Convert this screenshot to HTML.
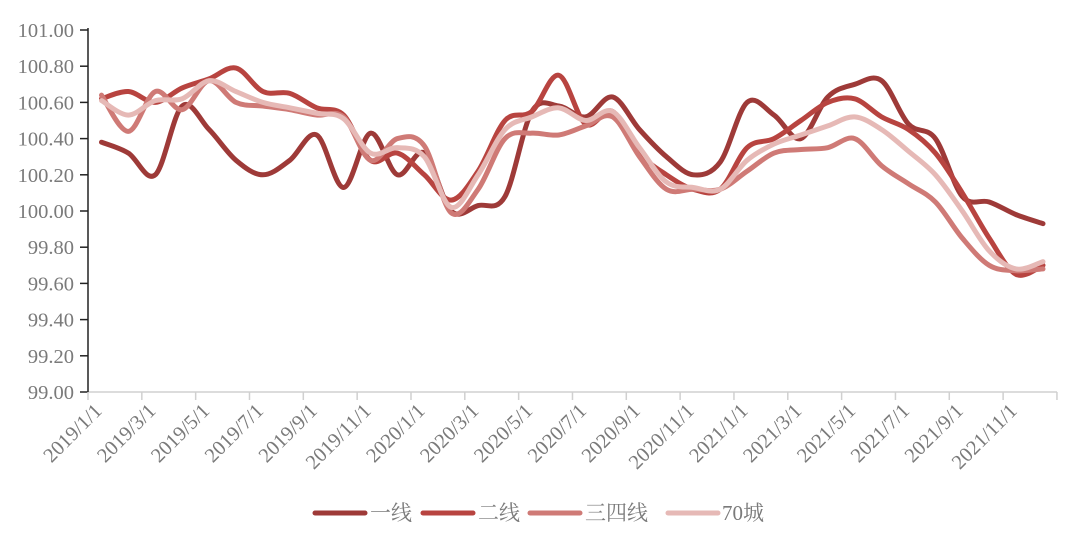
<!DOCTYPE html>
<html><head><meta charset="utf-8"><style>
body{margin:0;background:#fff;}
svg{display:block;}
text{font-family:"Liberation Serif","Noto Serif CJK SC",serif;fill:#7a7a7a;}
</style></head><body>
<svg id="c" width="1080" height="544" xmlns="http://www.w3.org/2000/svg">
<g id="grid"></g>
<g id="lines" fill="none" stroke-linecap="round" stroke-linejoin="round" stroke-width="5"></g>
<g font-size="21">
<line x1="315" y1="513" x2="365" y2="513" stroke="#9e3a38" stroke-width="5" stroke-linecap="round"/>
<text x="370" y="520">一线</text>
<line x1="423" y1="513" x2="473" y2="513" stroke="#b84440" stroke-width="5" stroke-linecap="round"/>
<text x="478" y="520">二线</text>
<line x1="530" y1="513" x2="580" y2="513" stroke="#cf7a76" stroke-width="5" stroke-linecap="round"/>
<text x="585" y="520">三四线</text>
<line x1="668" y1="513" x2="718" y2="513" stroke="#e6b9b6" stroke-width="5" stroke-linecap="round"/>
<text x="722" y="520">70城</text>
</g>
</svg>
<script>
function Y(v){return 30+(101-v)*181;}
function X(i){return 101.5+26.9*i;}
var g=document.getElementById('grid'),h='';
h+='<line x1="88" y1="392" x2="1057" y2="392" stroke="#d0d0d0" stroke-width="1.5"/>';
h+='<line x1="88" y1="28" x2="88" y2="392" stroke="#222" stroke-width="1.5"/>';
for(var k=0;k<=10;k++){var v=99+k*0.2,y=Y(v);
h+='<line x1="80" y1="'+y+'" x2="88" y2="'+y+'" stroke="#222" stroke-width="1.5"/>';
h+='<text x="74" y="'+(y+7)+'" text-anchor="end" font-size="20.5">'+v.toFixed(2)+'</text>';}
var labs=["2019/1/1","2019/3/1","2019/5/1","2019/7/1","2019/9/1","2019/11/1","2020/1/1","2020/3/1","2020/5/1","2020/7/1","2020/9/1","2020/11/1","2021/1/1","2021/3/1","2021/5/1","2021/7/1","2021/9/1","2021/11/1"];
for(var k=0;k<=18;k++){var x=88+53.83*k;
h+='<line x1="'+x+'" y1="392" x2="'+x+'" y2="400" stroke="#d0d0d0" stroke-width="1.5"/>';
if(k<18)h+='<text transform="translate('+(x+15)+',412) rotate(-45)" text-anchor="end" font-size="20.5">'+labs[k]+'</text>';}
g.innerHTML=h;
var S=[
["#9e3a38",[100.38,100.32,100.2,100.58,100.45,100.28,100.2,100.28,100.42,100.13,100.43,100.2,100.32,100.0,100.03,100.08,100.55,100.58,100.52,100.63,100.45,100.3,100.2,100.27,100.6,100.53,100.4,100.63,100.7,100.72,100.48,100.4,100.08,100.05,99.98,99.93]],
["#b84440",[100.62,100.66,100.6,100.68,100.73,100.79,100.66,100.65,100.57,100.53,100.28,100.32,100.2,100.06,100.22,100.5,100.55,100.75,100.48,100.55,100.32,100.2,100.12,100.12,100.35,100.4,100.5,100.6,100.62,100.52,100.45,100.32,100.1,99.85,99.65,99.7]],
["#cf7a76",[100.64,100.44,100.66,100.56,100.72,100.6,100.58,100.56,100.53,100.52,100.28,100.4,100.36,99.99,100.12,100.4,100.43,100.42,100.47,100.52,100.3,100.12,100.12,100.12,100.22,100.32,100.34,100.35,100.4,100.25,100.15,100.05,99.85,99.7,99.67,99.68]],
["#e6b9b6",[100.61,100.53,100.61,100.62,100.72,100.66,100.6,100.57,100.54,100.51,100.32,100.35,100.3,100.02,100.2,100.45,100.52,100.57,100.5,100.55,100.35,100.16,100.13,100.12,100.28,100.37,100.42,100.47,100.52,100.45,100.33,100.2,100.0,99.78,99.68,99.72]]];
var L=document.getElementById('lines'),o='';
S.forEach(function(s){var p=s[1].map(function(v,i){return [X(i),Y(v)];});
var d='M'+p[0][0]+','+p[0][1];
for(var i=0;i<p.length-1;i++){var p0=p[i-1]||p[i],p1=p[i],p2=p[i+1],p3=p[i+2]||p2;
d+=' C'+(p1[0]+(p2[0]-p0[0])/6)+','+(p1[1]+(p2[1]-p0[1])/6)+' '+(p2[0]-(p3[0]-p1[0])/6)+','+(p2[1]-(p3[1]-p1[1])/6)+' '+p2[0]+','+p2[1];}
o+='<path d="'+d+'" stroke="'+s[0]+'"/>';});
L.innerHTML=o;
</script>
</body></html>
